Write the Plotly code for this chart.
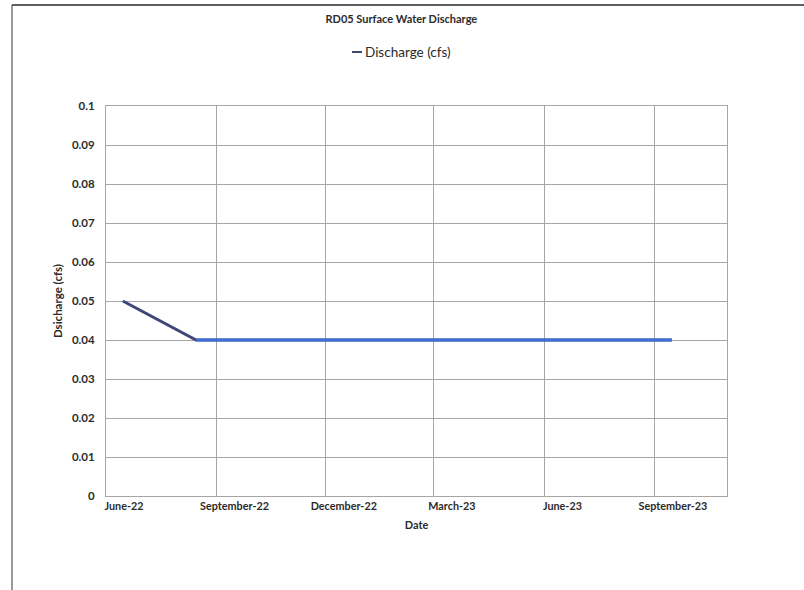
import plotly.graph_objects as go

# Monthly discharge readings
dates = ["2022-06-15", "2022-08-15", "2022-09-15", "2022-10-15", "2022-11-15",
         "2022-12-15", "2023-01-15", "2023-02-15", "2023-03-15", "2023-04-15",
         "2023-05-15", "2023-06-15", "2023-07-15", "2023-08-15", "2023-09-15"]
discharge = [0.05, 0.04, 0.04, 0.04, 0.04, 0.04, 0.04, 0.04, 0.04, 0.04,
             0.04, 0.04, 0.04, 0.04, 0.04]

tick_dates = ["2022-06-01", "2022-09-01", "2022-12-01", "2023-03-01", "2023-06-01", "2023-09-01"]
tick_text = ["June-22", "September-22", "December-22", "March-23", "June-23", "September-23"]
y_ticks = [0, 0.01, 0.02, 0.03, 0.04, 0.05, 0.06, 0.07, 0.08, 0.09, 0.1]
y_text = ["0", "0.01", "0.02", "0.03", "0.04", "0.05", "0.06", "0.07", "0.08", "0.09", "0.1"]
series_name = "Discharge (cfs)"

FONT = "Lato, Carlito, Open Sans, sans-serif"
TXT = "#2b2b2b"
GRID = "#a6a6a6"
DARK = "#3d4778"

# plot area in pixels: left 106, right 727, top 106, bottom 496
PW, PH = 621, 390


def px(x):
    return (x - 106) / PW


def py(y):
    return (496 - y) / PH


fig = go.Figure()
fig.add_trace(go.Scatter(
    x=dates, y=discharge, mode="lines", name=series_name, showlegend=False,
    line=dict(color=DARK, width=3),
))
# brighter overlay along the steady stretch
fig.add_trace(go.Scatter(
    x=dates[1:], y=discharge[1:], mode="lines", showlegend=False,
    line=dict(color="#3f6fd6", width=3), hoverinfo="skip",
))

fig.update_layout(
    width=804, height=590,
    paper_bgcolor="white", plot_bgcolor="white",
    margin=dict(l=106, r=77, t=106, b=94),
    font=dict(family=FONT, color=TXT, size=11),
    title=dict(text="<b>RD05 Surface Water Discharge</b>", x=px(416), xanchor="center",
               y=1 - 19 / 590, yanchor="middle", font=dict(size=11, color=TXT)),
)

fig.update_xaxes(
    type="date", range=["2022-06-01", "2023-10-31"],
    tickmode="array", tickvals=tick_dates,
    ticktext=["<b>%s</b>" % t for t in tick_text],
    ticklabelshift=18, ticks="", tickfont=dict(size=10.8, color=TXT),
    showgrid=True, gridcolor=GRID, gridwidth=1,
    showline=True, linecolor=GRID, linewidth=1, mirror=True,
    title=dict(text="<b>Date</b>", font=dict(size=11, color=TXT), standoff=10),
    zeroline=False,
)
fig.update_yaxes(
    range=[0, 0.1], tickmode="array", tickvals=y_ticks,
    ticktext=["<b>%s</b>" % t for t in y_text], ticks="",
    ticklabelstandoff=8,
    tickfont=dict(size=11.5, color=TXT),
    showgrid=True, gridcolor=GRID, gridwidth=1,
    showline=True, linecolor=GRID, linewidth=1, mirror=True,
    title=dict(text="<b>Dsicharge (cfs)</b>", font=dict(size=11.5, color=TXT), standoff=6),
    zeroline=False,
)

# legend: short line key followed by the series name
fig.add_shape(type="line", xref="paper", yref="paper",
              x0=px(352), x1=px(362), y0=py(52), y1=py(52),
              line=dict(color=DARK, width=2))
fig.add_annotation(text=series_name, xref="paper", yref="paper",
                   x=px(363), y=py(52), xanchor="left", yanchor="middle",
                   showarrow=False, font=dict(size=13.5, color=TXT))

# page frame lines around the chart
fig.add_shape(type="line", xref="paper", yref="paper",
              x0=px(12), x1=px(804), y0=py(5), y1=py(5),
              line=dict(color="#2a2a2a", width=1.5))
fig.add_shape(type="line", xref="paper", yref="paper",
              x0=px(12), x1=px(12), y0=py(590), y1=py(5),
              line=dict(color="#555555", width=1.2))
fig.add_annotation(text="y", xref="paper", yref="paper", x=px(157),
                   y=py(-2), xanchor="center", yanchor="bottom",
                   showarrow=False, font=dict(family="DejaVu Serif", size=15, color="black"))

fig.write_html("out.html")
